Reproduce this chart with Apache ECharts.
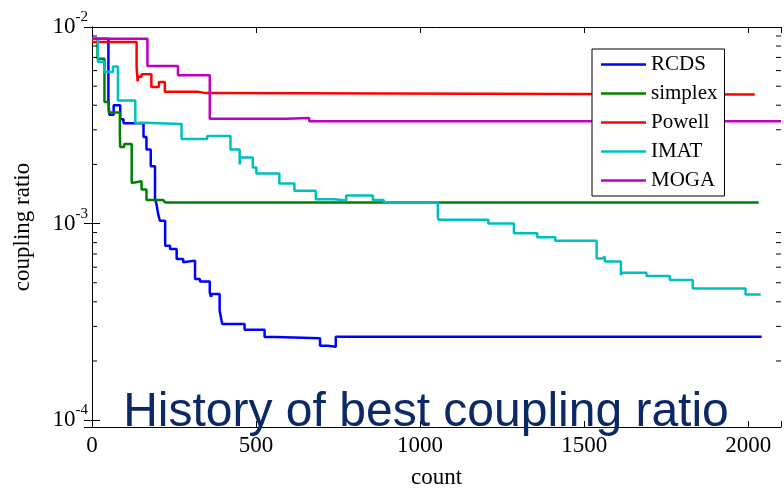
<!DOCTYPE html>
<html>
<head>
<meta charset="utf-8">
<script src="https://cdn.jsdelivr.net/npm/echarts@6/dist/echarts.min.js"></script>
<style>
html,body{margin:0;padding:0;background:#fff;}
#chart{width:784px;height:494px;}
</style>
</head>
<body>
<div id="chart"></div>
<script>
// ---- data (count where each step starts, best coupling ratio) ----
const seriesNames = ['RCDS', 'simplex', 'Powell', 'IMAT', 'MOGA'];

const rcdsX = [0, 50, 53, 66, 86, 96, 157, 166, 179, 192, 197, 202, 207, 223, 238, 258, 278, 282, 314, 329, 359, 363, 365, 389, 395, 397, 465, 526, 561, 695, 718, 743, 2041];
const rcdsY = [8.72e-3, 4.15e-3, 3.58e-3, 4.0e-3, 3.39e-3, 3.24e-3, 2.76e-3, 2.38e-3, 1.96e-3, 1.34e-3, 1.245e-3, 1.11e-3, 1.034e-3, 7.72e-4, 7.43e-4, 6.61e-4, 6.35e-4, 6.48e-4, 5.22e-4, 5.08e-4, 4.46e-4, 4.24e-4, 4.38e-4, 3.60e-4, 3.20e-4, 3.08e-4, 2.88e-4, 2.65e-4, 2.61e-4, 2.39e-4, 2.36e-4, 2.66e-4, 2.66e-4];

const simplexX = [0, 17, 38, 51, 85, 86, 98, 121, 127, 151, 166, 217, 223, 2032];
const simplexY = [8.72e-3, 6.90e-3, 4.15e-3, 3.67e-3, 2.81e-3, 2.45e-3, 2.54e-3, 1.61e-3, 1.64e-3, 1.49e-3, 1.32e-3, 1.34e-3, 1.28e-3, 1.28e-3];

const powellX = [0, 136, 139, 141, 151, 181, 204, 222, 321, 348, 2020];
const powellY = [8.40e-3, 6.25e-3, 5.29e-3, 5.59e-3, 5.75e-3, 4.95e-3, 5.25e-3, 4.69e-3, 4.61e-3, 4.53e-3, 4.53e-3];

const imatX = [0, 18, 38, 64, 79, 132, 157, 273, 351, 422, 450, 452, 490, 501, 571, 617, 682, 738, 775, 856, 889, 1054, 1056, 1208, 1286, 1357, 1412, 1538, 1556, 1563, 1612, 1615, 1690, 1761, 1831, 1992, 2038];
const imatY = [8.72e-3, 6.65e-3, 5.91e-3, 6.29e-3, 4.23e-3, 3.26e-3, 3.21e-3, 2.69e-3, 2.79e-3, 2.38e-3, 2.0e-3, 2.17e-3, 1.93e-3, 1.80e-3, 1.60e-3, 1.47e-3, 1.33e-3, 1.31e-3, 1.39e-3, 1.32e-3, 1.28e-3, 1.09e-3, 1.045e-3, 1.0e-3, 8.92e-4, 8.51e-4, 8.19e-4, 6.65e-4, 6.79e-4, 6.42e-4, 5.48e-4, 5.62e-4, 5.41e-4, 5.16e-4, 4.68e-4, 4.36e-4, 4.36e-4];

const mogaX = [0, 169, 262, 359, 592, 662, 2100];
const mogaY = [8.72e-3, 6.34e-3, 5.69e-3, 3.41e-3, 3.44e-3, 3.32e-3, 3.32e-3];

const xTicks = [0, 500, 1000, 1500, 2000];
const yMin = 9.23e-5, yMax = 1e-2, xMin = 0, xMax = 2100, xStep = 500;
const minorTickValues = [2e-4,3e-4,4e-4,5e-4,6e-4,7e-4,8e-4,9e-4,2e-3,3e-3,4e-3,5e-3,6e-3,7e-3,8e-3,9e-3];

const titleText = 'History of best coupling ratio';
const xName = 'count', yName = 'coupling ratio';

// ---- chart ----
const colors = ['#0000ff', '#008000', '#ff0000', '#00bfbf', '#bf00bf'];
const serif = 'Liberation Serif';
const zip = (xs, ys) => xs.map((x, i) => [x, ys[i]]);
const allData = [zip(rcdsX, rcdsY), zip(simplexX, simplexY), zip(powellX, powellY), zip(imatX, imatY), zip(mogaX, mogaY)];

const chart = echarts.init(document.getElementById('chart'), null, {renderer: 'canvas'});

function yLabel(v) {
  const e = Math.log10(v);
  if (Math.abs(e - Math.round(e)) > 1e-6) return '';
  return '{b|10}{s|' + Math.round(e) + '}';
}

const lineSeries = seriesNames.map((name, i) => ({
  name: name,
  type: 'line',
  step: 'end',
  symbol: 'none',
  data: allData[i],
  color: colors[i],
  lineStyle: {color: colors[i], width: 2.5},
  animation: false,
  z: 3
}));

const minorSeries = {
  type: 'custom',
  silent: true,
  animation: false,
  xAxisIndex: 0, yAxisIndex: 0,
  data: minorTickValues.map(v => [0, v]),
  encode: {x: 0, y: 1},
  clip: false,
  z: 5,
  renderItem: function (params, api) {
    const y = api.coord([0, api.value(1)])[1];
    const cs = params.coordSys;
    const style = {stroke: '#000', lineWidth: 1};
    return {type: 'group', children: [
      {type: 'line', shape: {x1: cs.x, y1: y, x2: cs.x + 5, y2: y}, style: style},
      {type: 'line', shape: {x1: cs.x + cs.width, y1: y, x2: cs.x + cs.width - 5, y2: y}, style: style}
    ]};
  }
};

const axisLineStyle = {show: true, lineStyle: {color: '#000', width: 1}};

chart.setOption({
  backgroundColor: '#fff',
  animation: false,
  grid: {left: 92, right: -1, top: 27, bottom: 58, containLabel: false},
  xAxis: [{
    type: 'value', min: xMin, max: xMax, interval: xStep, position: 'bottom',
    name: xName, nameLocation: 'middle', nameGap: 39,
    nameTextStyle: {fontFamily: serif, fontSize: 23, color: '#000'},
    axisLine: axisLineStyle,
    axisTick: {show: true, inside: true, length: 6, lineStyle: {color: '#000'}},
    axisLabel: {fontFamily: serif, fontSize: 23, color: '#000', margin: 7,
      formatter: v => (xTicks.indexOf(v) >= 0 ? String(v) : '')},
    splitLine: {show: false}
  }, {
    type: 'value', min: xMin, max: xMax, interval: xStep, position: 'top',
    axisLine: axisLineStyle,
    axisTick: {show: true, inside: true, length: 6, lineStyle: {color: '#000'}},
    axisLabel: {show: false}, splitLine: {show: false}
  }],
  yAxis: [{
    type: 'log', logBase: 10, min: yMin, max: yMax, position: 'left',
    name: yName, nameLocation: 'middle', nameGap: 58, nameRotate: 90,
    nameTextStyle: {fontFamily: serif, fontSize: 23, color: '#000'},
    axisLine: axisLineStyle,
    axisTick: {show: true, inside: true, length: 8, lineStyle: {color: '#000'}},
    axisLabel: {color: '#000', margin: 4, formatter: yLabel,
      rich: {
        b: {fontFamily: serif, fontSize: 23, color: '#000'},
        s: {fontFamily: serif, fontSize: 15, color: '#000', padding: [0, 0, 20, 0]}
      }},
    splitLine: {show: false}
  }, {
    type: 'log', logBase: 10, min: yMin, max: yMax, position: 'right',
    axisLine: axisLineStyle,
    axisTick: {show: true, inside: true, length: 8, lineStyle: {color: '#000'}},
    axisLabel: {show: false}, splitLine: {show: false}
  }],
  legend: {
    data: seriesNames,
    orient: 'vertical',
    left: 592, top: 49,
    padding: [5, 7, 5, 9],
    icon: 'rect',
    itemWidth: 45, itemHeight: 2.5, itemGap: 8,
    backgroundColor: '#fff',
    borderColor: '#000', borderWidth: 1, borderRadius: 0,
    textStyle: {fontFamily: serif, fontSize: 21, color: '#000'},
    selectedMode: false
  },
  graphic: [{
    type: 'text', z: 100,
    x: 426, y: 413,
    style: {text: titleText, fill: '#0a2966', font: '48px "Liberation Sans"', align: 'center', verticalAlign: 'middle'}
  }],
  series: lineSeries.concat([minorSeries])
});
</script>
</body>
</html>
